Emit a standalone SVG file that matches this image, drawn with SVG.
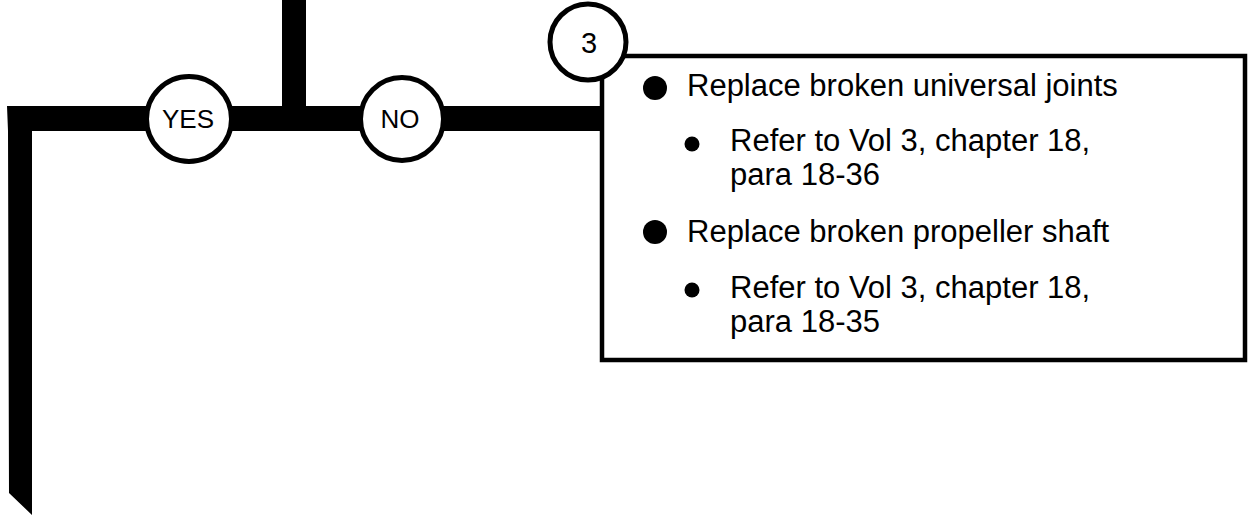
<svg xmlns="http://www.w3.org/2000/svg" width="1250" height="515" viewBox="0 0 1250 515">
<style>
.t{font-family:"Liberation Sans",Arial,sans-serif;fill:#000}
.m{font-size:31px}
.c{font-size:26px;text-anchor:middle}
.ring{fill:#fff;stroke:#000;stroke-width:5}
</style>
<rect width="1250" height="515" fill="#fff"/>
<g id="connectors">
<polygon points="7,106 602,106 602,131 32,131 32,515 9,493 8,131" fill="#000"/>
<rect x="282" y="0" width="24" height="108" fill="#000"/>
</g>
<g id="box3">
<rect x="602" y="56" width="643" height="304" fill="#fff" stroke="#000" stroke-width="4.5"/>
<circle cx="655" cy="88" r="12"/>
<text class="t m" x="687" y="96">Replace broken universal joints</text>
<circle cx="692" cy="144" r="7.5"/>
<text class="t m" x="730" y="151">Refer to Vol 3, chapter 18,</text>
<text class="t m" x="730" y="185">para 18-36</text>
<circle cx="655" cy="232" r="12"/>
<text class="t m" x="687" y="242">Replace broken propeller shaft</text>
<circle cx="692" cy="290" r="7.5"/>
<text class="t m" x="730" y="298">Refer to Vol 3, chapter 18,</text>
<text class="t m" x="730" y="332">para 18-35</text>
</g>
<g id="num3">
<circle class="ring" cx="588" cy="42" r="38" stroke-width="4.5"/>
<text class="t c" x="589" y="53" style="font-size:29px">3</text>
</g>
<g id="yes">
<circle class="ring" cx="189" cy="119" r="42.5"/>
<text class="t c" x="188" y="128">YES</text>
</g>
<g id="no">
<circle class="ring" cx="402" cy="119" r="41.5"/>
<text class="t c" x="400" y="128">NO</text>
</g>
</svg>
